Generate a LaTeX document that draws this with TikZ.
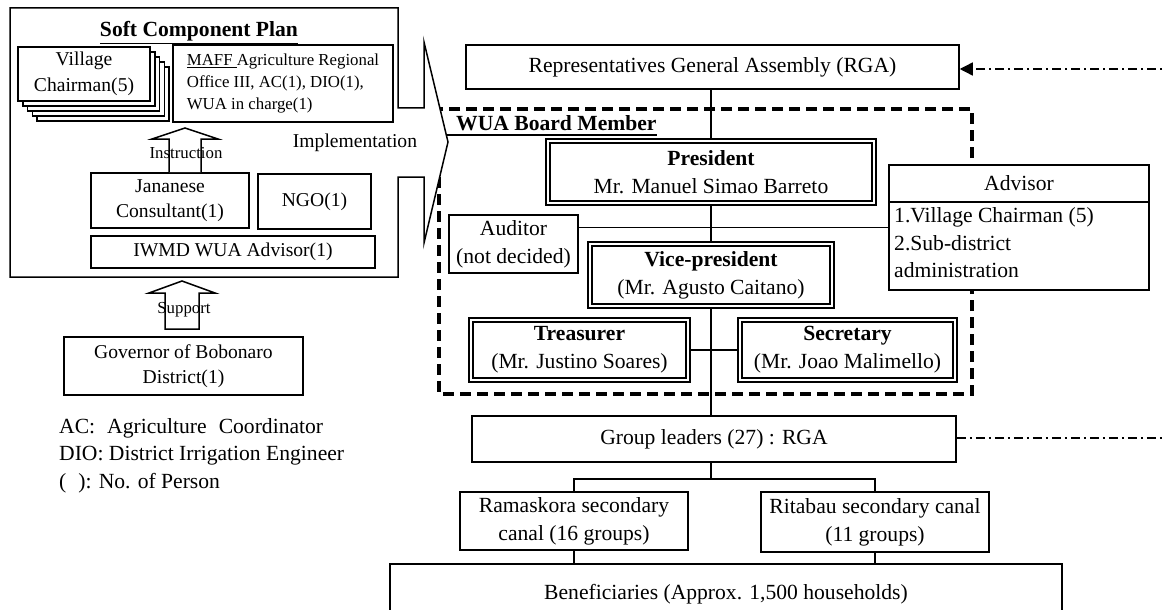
\documentclass[tikz,border=0pt]{standalone}
\usepackage{fontspec}
\setmainfont{Liberation Serif}
\usetikzlibrary{arrows.meta,calc}

\newcommand\fsA{\fontsize{21.6pt}{28pt}\selectfont}
\newcommand\fsB{\fontsize{19.6pt}{25.5pt}\selectfont}
\newcommand\fsC{\fontsize{16.8pt}{21.7pt}\selectfont}

\tikzset{
  bx/.style={draw, line width=1.5pt, fill=white, inner sep=0pt, align=center, font=\fsA},
  dbl/.style={bx, line width=1.1pt},
  lnk/.style={line width=1.5pt},
  dd/.style={line width=1.4pt, dash pattern=on 9pt off 4pt on 2pt off 4pt},
  bdash/.style={line width=3.2pt, dash pattern=on 11pt off 6pt},
  blk/.style={draw, line width=1.5pt, fill=white, line join=miter},
  lbl/.style={inner sep=0pt, font=\fsA}
}

\begin{document}
\begin{tikzpicture}[x=1pt,y=-1pt]
\useasboundingbox (0,0) rectangle (1163,610);
\clip (0,0) rectangle (1163,610);

% dashed frame of the board
\draw[bdash] (439,109) rectangle (972,394);

% soft component frame, opening into the implementation arrow
\draw[line width=1.5pt, fill=white, line join=miter]
  (10,8) -- (398,8) -- (398,108) -- (424,108) -- (424,42) -- (448,142)
  -- (424,243) -- (424,177) -- (398,177) -- (398,277) -- (10,277) -- cycle;

\node[font=\fsA\bfseries, inner sep=0pt, anchor=base] (scp) at (199,37) {\underline{Soft Component Plan}};

% stacked village chairman cards
\foreach \i in {4,3,2,1}
  \draw[line width=1.5pt, fill=white] (18+4.75*\i,47+5*\i) rectangle (150+4.75*\i,101+5*\i);
\node[bx, font=\fsB, minimum width=132pt, minimum height=54pt] (vc) at (84,74) {Village\\Chairman(5)};

\node[bx, font=\fsC, align=left, minimum width=220pt, minimum height=77pt] (maff) at (283,83.5)
  {\underline{MAFF\ }Agriculture Regional\\Office III, AC(1), DIO(1),\\WUA in charge(1)};

\node[bx, font=\fsB, minimum width=158pt, minimum height=55pt] (jc) at (170,200.5) {Jananese\\Consultant(1)};
\node[bx, font=\fsB, minimum width=113pt, minimum height=55pt] (ngo) at (314.5,201.5) {NGO(1)};
\node[bx, font=\fsB, minimum width=284pt, minimum height=32pt] (iwmd) at (233,252) {IWMD WUA Advisor(1)};

% instruction block arrow
\draw[blk] (169,172) -- (169,139) -- (152,139) -- (185,128) -- (218,139) -- (201,139) -- (201,172);
\node[font=\fsC, inner sep=0pt] (ins) at (186,153) {Instruction};

\node[font=\fsB, inner sep=0pt] (impl) at (355,143) {Implementation};

% support block arrow
\draw[blk] (165,329) -- (165,293) -- (149,293) -- (182,281) -- (215,293) -- (199,293) -- (199,329) -- cycle;
\node[font=\fsC, inner sep=0pt] (sup) at (184,310) {Support};

\node[bx, font=\fsB, minimum width=239pt, minimum height=58pt] (gov) at (183.5,366) {Governor of Bobonaro\\District(1)};

% legend
\node[lbl, anchor=base west] (lg1) at (59,433) {AC:\hspace{12pt}Agriculture\hspace{12pt}Coordinator};
\node[lbl, anchor=base west] (lg2) at (59,460) {DIO: District Irrigation Engineer};
\node[lbl, anchor=base west] (lg3) at (59,488) {(\hspace{12pt}): No. of Person};

% organisation chart
\node[bx, minimum width=493pt, minimum height=44pt] (rga) at (712.5,67) {Representatives General Assembly (RGA)};

\node[font=\fsA\bfseries, inner sep=0pt, anchor=base west] (wua) at (456,130) {WUA Board Member};
\draw[line width=2.8pt] (447,135) -- (wua.base east |- 0,135);

\node[dbl, minimum width=330pt, minimum height=66pt] (pres) at (711,172) {\textbf{President}\\Mr. Manuel Simao Barreto};
\node[bx, minimum width=129pt, minimum height=58pt] (aud) at (513.5,244) {Auditor\\(not decided)};
\node[dbl, minimum width=246pt, minimum height=66pt] (vice) at (711,275) {\textbf{Vice-president}\\(Mr. Agusto Caitano)};
\node[dbl, minimum width=221pt, minimum height=64pt] (treas) at (579.5,350) {\textbf{Treasurer}\\(Mr. Justino Soares)};
\node[dbl, minimum width=219pt, minimum height=64pt] (secr) at (847.5,350) {\textbf{Secretary}\\(Mr. Joao Malimello)};

\foreach \n in {pres,vice,treas,secr}
  \draw[line width=2.2pt] ([xshift=4.5pt,yshift=-4.5pt]\n.north west) rectangle ([xshift=-4.5pt,yshift=4.5pt]\n.south east);

% advisor box with header
\node[bx, minimum width=260pt, minimum height=125pt] (adv) at (1019,227.5) {};
\coordinate (advh) at (0,202);
\draw[lnk] (adv.west |- advh) -- (adv.east |- advh);
\node[lbl] (advt) at (1019,183.5) {Advisor};
\node[lbl, anchor=base west] (adv1) at (894,222) {1.Village Chairman (5)};
\node[lbl, anchor=base west] (adv2) at (894,250) {2.Sub-district};
\node[lbl, anchor=base west] (adv3) at (894,277) {administration};

\node[bx, minimum width=484pt, minimum height=46pt] (grp) at (714,439) {Group leaders (27) : RGA};
\node[bx, minimum width=228pt, minimum height=58pt] (ram) at (574,521) {Ramaskora secondary\\canal (16 groups)};
\node[bx, minimum width=228pt, minimum height=60pt] (rit) at (875,522) {Ritabau secondary canal\\(11 groups)};
\node[bx, minimum width=672pt, minimum height=60pt] (ben) at (726,594) {Beneficiaries (Approx. 1,500 households)};

% connectors
\draw[lnk] (rga.south -| pres.north) -- (pres.north);
\draw[lnk] (pres.south) -- (vice.north);
\draw[lnk] (aud.east |- adv.west) -- (adv.west);
\draw[lnk] (treas.east) -- (secr.west);
\draw[lnk] (vice.south) -- (vice.south |- grp.north);
\coordinate (br) at (711,479);
\draw[lnk] (vice.south |- grp.south) -- (br);
\draw[lnk] (ram.north) |- (br) -| (rit.north);
\draw[lnk] (ram.south) -- (ram.south |- ben.north);
\draw[lnk] (rit.south) -- (rit.south |- ben.north);

% dash-dot links to the right edge
\coordinate (rgain) at (1175,69);
\draw[dd, -{Triangle[length=13pt,width=13pt]}] (rgain) -- (rgain -| rga.east);
\coordinate (grpout) at (1175,438);
\draw[dd] (grp.east |- grpout) -- (grpout);
\end{tikzpicture}
\end{document}
